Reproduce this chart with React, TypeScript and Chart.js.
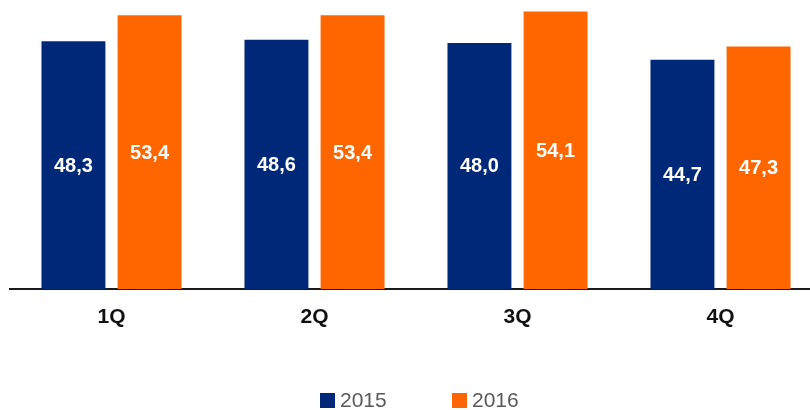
import React, { useEffect, useRef } from "react";
import { Chart, registerables } from "chart.js";

Chart.register(...registerables);

const categories = ["1Q", "2Q", "3Q", "4Q"];
const seriesNames = ["2015", "2016"];
const values2015 = [48.3, 48.6, 48.0, 44.7];
const values2016 = [53.4, 53.4, 54.1, 47.3];
const colors = ["#002878", "#FF6600"];

const fmt = (v: number) => v.toFixed(1).replace(".", ",");

const valueLabels = {
  id: "valueLabels",
  afterDatasetsDraw(chart: any) {
    const ctx = chart.ctx;
    ctx.save();
    ctx.fillStyle = "#ffffff";
    ctx.font = "bold 20px 'Liberation Sans', Arial, sans-serif";
    ctx.textAlign = "center";
    ctx.textBaseline = "middle";
    chart.data.datasets.forEach((ds: any, di: number) => {
      const meta = chart.getDatasetMeta(di);
      meta.data.forEach((el: any, i: number) => {
        const y = (el.y + el.base) / 2 + 1;
        ctx.fillText(fmt(ds.data[i]), el.x, y);
      });
    });
    ctx.restore();
  },
};

const customLegend = {
  id: "customLegend",
  afterDraw(chart: any) {
    const ctx = chart.ctx;
    ctx.save();
    ctx.font = "21px 'Liberation Sans', Arial, sans-serif";
    ctx.textBaseline = "middle";
    ctx.textAlign = "left";
    const box = 15;
    const step = 132;
    const startX = chart.width / 2 - 95;
    const cy = 400.5;
    chart.data.datasets.forEach((ds: any, i: number) => {
      const x = startX + i * step;
      ctx.fillStyle = ds.backgroundColor;
      ctx.fillRect(x, cy - box / 2, box, box);
      ctx.fillStyle = "#595959";
      ctx.fillText(ds.label, x + box + 5, cy + 1);
    });
    ctx.restore();
  },
};

export default function App() {
  const ref = useRef<HTMLCanvasElement>(null);

  useEffect(() => {
    if (!ref.current) return;
    const chart = new Chart(ref.current, {
      type: "bar",
      data: {
        labels: categories,
        datasets: [
          { label: seriesNames[0], data: values2015, backgroundColor: colors[0] },
          { label: seriesNames[1], data: values2016, backgroundColor: colors[1] },
        ],
      },
      options: {
        responsive: false,
        animation: false,
        layout: { padding: { left: 10, right: 8, top: 7, bottom: 0 } },
        datasets: {
          bar: { categoryPercentage: 0.75, barPercentage: 0.84 },
        },
        plugins: {
          legend: { display: false },
          tooltip: { enabled: false },
        },
        scales: {
          x: {
            grid: { display: false, drawTicks: false },
            border: { display: true, color: "#1a1a1a", width: 2 },
            ticks: {
              color: "#111111",
              padding: 16,
              font: { family: "'Liberation Sans', Arial, sans-serif", size: 21, weight: "bold" },
            },
            afterFit: (scale: any) => {
              scale.height = 121;
            },
          },
          y: {
            display: false,
            min: 0,
            max: 55,
          },
        },
      },
      plugins: [valueLabels, customLegend],
    });
    return () => chart.destroy();
  }, []);

  return (
    <div style={{ position: "fixed", left: 0, top: 0, width: 810, height: 410, overflow: "hidden", background: "#fff" }}>
      <canvas ref={ref} width={830} height={410} style={{ width: 830, height: 410, display: "block" }} />
    </div>
  );
}
